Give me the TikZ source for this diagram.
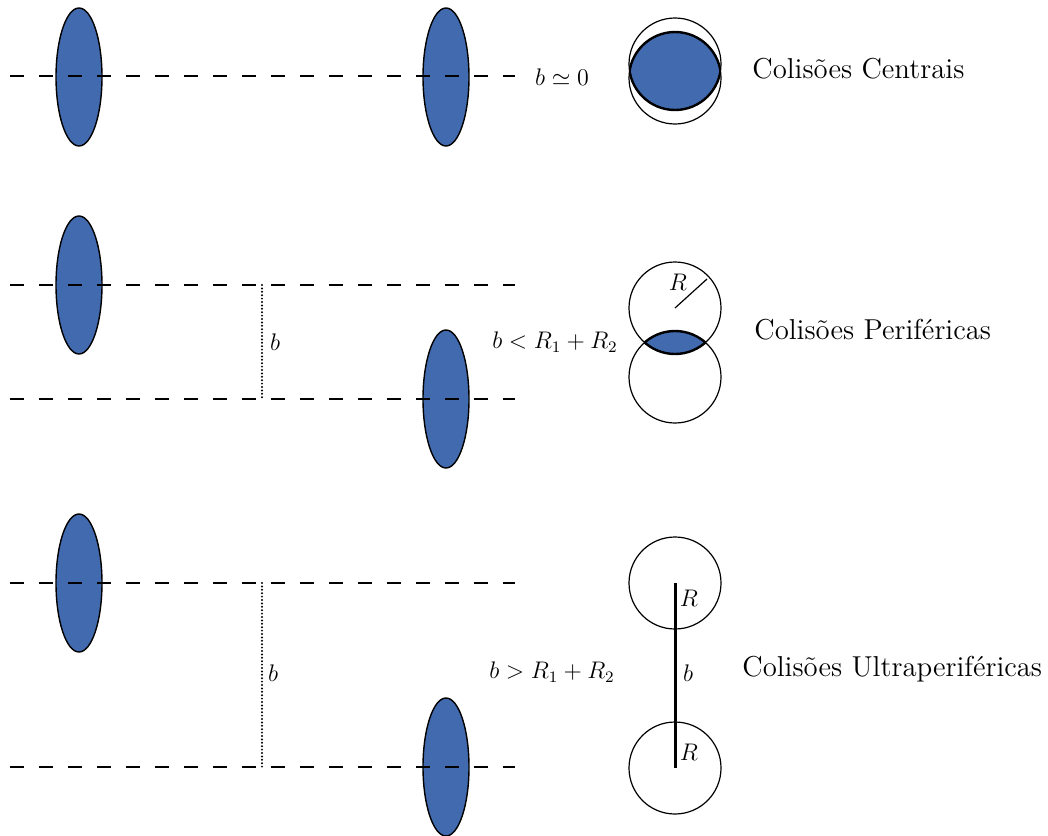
\documentclass[tikz,border=0pt]{standalone}
\usetikzlibrary{shapes.geometric}
\definecolor{nucblue}{RGB}{66,106,175}
\begin{document}
\begin{tikzpicture}[x=0.5pt,y=-0.5pt,
  nucleus/.style={ellipse,draw=black,line width=0.7pt,fill=nucblue,minimum width=23pt,minimum height=69pt,inner sep=0pt},
  beam/.style={line width=1.3pt,dash pattern=on 7pt off 7.5pt},
  impact/.style={line width=1.1pt,line cap=round,dash pattern=on 0pt off 1.7pt},
  ring/.style={line width=0.6pt},
  lensedge/.style={line width=1.2pt},
  cond/.style={font=\fontsize{11.5}{13}\selectfont,inner sep=0pt},
  title/.style={font=\fontsize{14.4}{16}\selectfont,inner sep=0pt,anchor=west},
  lab/.style={font=\fontsize{11.5}{13}\selectfont,inner sep=0pt}]
\useasboundingbox (0,0) rectangle (1048,835);
% ---------- row 1: central ----------
\node[nucleus] (n1a) at (79,77) {};
\node[nucleus] (n1b) at (446,77) {};
\coordinate (l1s) at (10,76); \coordinate (l1e) at (515,76);
\draw[beam] (l1s) -- (l1e);
\node[cond] (c1) at (562,77) {$b\simeq 0$};
\coordinate (p1a) at (675,64); \coordinate (p1b) at (675,78);
\begin{scope}\clip (p1a) circle[radius=23pt]; \fill[nucblue] (p1b) circle[radius=23pt];
 \draw[lensedge] (p1b) circle[radius=23pt];\end{scope}
\begin{scope}\clip (p1b) circle[radius=23pt]; \draw[lensedge] (p1a) circle[radius=23pt];\end{scope}
\draw[ring] (p1a) circle[radius=23pt];
\draw[ring] (p1b) circle[radius=23pt];
\node[title] (t1) at (752,69) {Colisões Centrais};
% ---------- row 2: peripheral ----------
\node[nucleus] (n2a) at (79,285) {};
\node[nucleus] (n2b) at (446,399) {};
\coordinate (l2s) at (10,285); \coordinate (l2e) at (515,285);
\coordinate (l3s) at (10,399); \coordinate (l3e) at (515,399);
\draw[beam] (l2s) -- (l2e);
\draw[beam] (l3s) -- (l3e);
\coordinate (d2a) at (262,285); \coordinate (d2b) at (262,399);
\draw[impact] (d2a) -- (d2b);
\node[lab] (b2) at (275,342) {$b$};
\node[cond] (c2) at (555,342) {$b<R_1+R_2$};
\coordinate (p2a) at (675,308); \coordinate (p2b) at (675,377);
\begin{scope}\clip (p2a) circle[radius=23pt]; \fill[nucblue] (p2b) circle[radius=23pt];
 \draw[lensedge] (p2b) circle[radius=23pt];\end{scope}
\begin{scope}\clip (p2b) circle[radius=23pt]; \draw[lensedge] (p2a) circle[radius=23pt];\end{scope}
\draw[ring] (p2a) circle[radius=23pt];
\draw[ring] (p2b) circle[radius=23pt];
\coordinate (r2e) at (707,279);
\draw[ring] (p2a) -- (r2e);
\node[lab] (R2) at (678,282) {$R$};
\node[title] (t2) at (754,330) {Colisões Periféricas};
% ---------- row 3: ultraperipheral ----------
\node[nucleus] (n3a) at (79,583) {};
\node[nucleus] (n3b) at (446,767) {};
\coordinate (l4s) at (10,583); \coordinate (l4e) at (515,583);
\coordinate (l5s) at (10,767); \coordinate (l5e) at (515,767);
\draw[beam] (l4s) -- (l4e);
\draw[beam] (l5s) -- (l5e);
\coordinate (d3a) at (262,583); \coordinate (d3b) at (262,767);
\draw[impact] (d3a) -- (d3b);
\node[lab] (b3) at (273,673) {$b$};
\node[cond] (c3) at (552,672) {$b>R_1+R_2$};
\coordinate (p3a) at (675,583); \coordinate (p3b) at (675,768);
\draw[ring] (p3a) circle[radius=23pt];
\draw[ring] (p3b) circle[radius=23pt];
\draw[line width=1.5pt] (p3a) -- (p3b);
\node[lab] (R3a) at (689,598) {$R$};
\node[lab] (b3r) at (688,673) {$b$};
\node[lab] (R3b) at (689,752) {$R$};
\node[title] (t3) at (742,669) {Colisões Ultraperiféricas};
\end{tikzpicture}
\end{document}
